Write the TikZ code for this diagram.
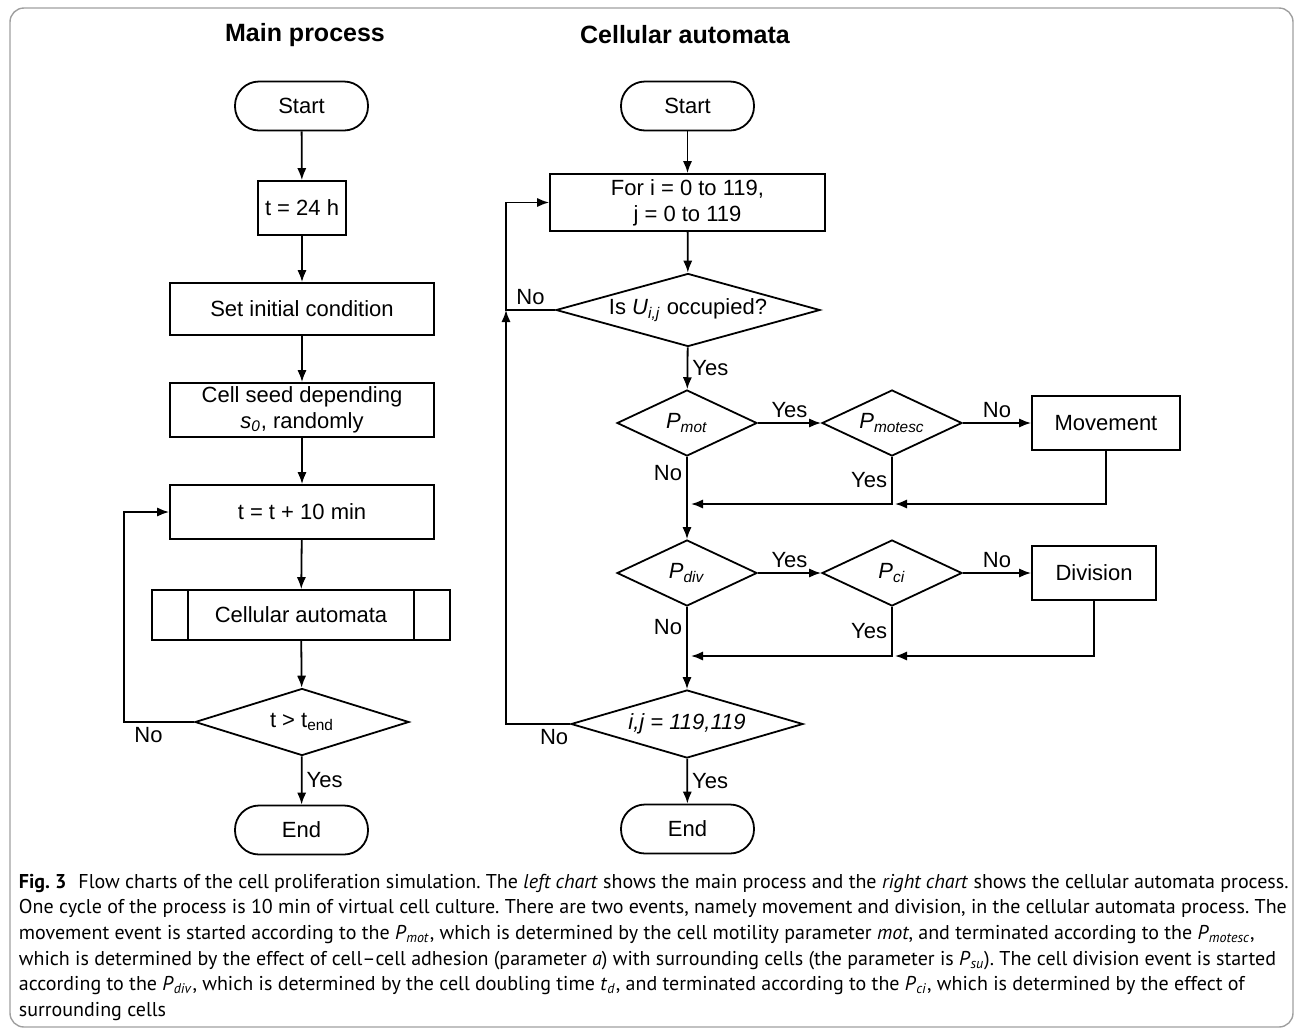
\documentclass[tikz,border=0pt]{standalone}
\usepackage{fontspec}
\setmainfont{Liberation Sans}
\newfontfamily\capfont[Ligatures=TeX]{PT Sans}
\usetikzlibrary{shapes.geometric, arrows.meta}
\tikzset{
  >={Latex[length=6pt,width=4.6pt]},
  base/.style={draw, align=center, inner sep=0pt, font=\fontsize{11}{13}\selectfont},
  startstop/.style={base, rounded corners=12pt, minimum width=66.5pt, minimum height=24.5pt},
  procbox/.style={base, rectangle, minimum height=27pt},
  decision/.style={base, diamond, aspect=2.1, minimum width=70pt, minimum height=33pt},
  lbl/.style={inner sep=2pt, font=\fontsize{11}{13}\selectfont},
  heading/.style={font=\fontsize{12.5}{15}\selectfont\bfseries},
}

\begin{document}
\frenchspacing
\begin{tikzpicture}[x=0.5pt, y=-0.5pt, line width=0.9pt]
  \useasboundingbox (0,0) rectangle (1295,1029);
  \draw[gray!75, line width=0.7pt, rounded corners=7pt] (10,8) rectangle (1293,1027);

  % main process
  \node[heading] (mhead) at (305,35) {Main process};
  \node[startstop] (mstart) at (301.5,106) {Start};
  \node[procbox, minimum width=44pt] (tinit) at (302,208) {t = 24 h};
  \node[procbox, minimum width=132pt, minimum height=26pt] (setinit) at (302,309) {Set initial condition};
  \node[procbox, minimum width=132pt] (seed) at (302,410) {Cell seed depending\\\textit{s}\textsubscript{\textit{0}}, randomly};
  \node[procbox, minimum width=132pt] (tstep) at (302,512) {t = t + 10 min};
  \node[procbox, minimum width=149pt, minimum height=25pt] (mca) at (301,615) {Cellular automata};
  \draw ([xshift=18.5pt]mca.north west) -- ([xshift=18.5pt]mca.south west)
        ([xshift=-18.5pt]mca.north east) -- ([xshift=-18.5pt]mca.south east);
  \node[decision, minimum width=107pt, minimum height=33.5pt, aspect=3.2] (tend) at (302,722) {t > t\textsubscript{end}};
  \node[startstop] (mend) at (301.5,830) {End};
  \coordinate (mloop) at (124,722);

  % cellular automata
  \node[heading] (chead) at (685,35) {Cellular automata};
  \node[startstop] (cstart) at (687.5,106) {Start};
  \node[procbox, minimum width=137.5pt, minimum height=28.5pt] (forij) at (687.5,202.5) {For i = 0 to 119,\\j = 0 to 119};
  \node[decision, minimum width=132pt, minimum height=36.5pt, aspect=3.6] (occ) at (688,310) {Is \textit{U}\textsubscript{\textit{i,j}} occupied?};
  \node[decision] (pmot) at (687,423) {\textit{P}\textsubscript{\textit{mot}}};
  \node[decision] (pmotesc) at (892,423) {\textit{P}\textsubscript{\textit{motesc}}};
  \node[procbox, minimum width=74pt] (move) at (1106,423) {Movement};
  \node[decision] (pdiv) at (687,573) {\textit{P}\textsubscript{\textit{div}}};
  \node[decision] (pci) at (892,573) {\textit{P}\textsubscript{\textit{ci}}};
  \node[procbox, minimum width=62pt] (divis) at (1094,573) {Division};
  \node[decision, minimum width=116pt, minimum height=34pt, aspect=3.4] (last) at (687,724) {\textit{i,j = 119,119}};
  \node[startstop] (cend) at (687.5,829) {End};
  \coordinate (j1) at (687,504);
  \coordinate (j2) at (892,504);
  \coordinate (j3) at (687,656);
  \coordinate (j4) at (892,656);
  \coordinate (lp) at (506,310);
  \coordinate (lq) at (506,724);

  % caption
  \node[anchor=north west, align=left, inner sep=0pt, font=\capfont\fontsize{10}{12.85}\selectfont] (cap) at (18,873)
    {\textbf{Fig. 3}\hspace{0.6em}Flow charts of the cell proliferation simulation. The \textit{left chart} shows the main process and the \textit{right chart} shows the cellular automata process.\\
     One cycle of the process is 10 min of virtual cell culture. There are two events, namely movement and division, in the cellular automata process. The\\
     movement event is started according to the \textit{P}\textsubscript{\textit{mot}}, which is determined by the cell motility parameter \textit{mot}, and terminated according to the \textit{P}\textsubscript{\textit{motesc}},\\
     which is determined by the effect of cell\textendash cell adhesion (parameter \textit{a}) with surrounding cells (the parameter is \textit{P}\textsubscript{\textit{su}}). The cell division event is started\\
     according to the \textit{P}\textsubscript{\textit{div}}, which is determined by the cell doubling time \textit{t}\textsubscript{\textit{d}}, and terminated according to the \textit{P}\textsubscript{\textit{ci}}, which is determined by the effect of\\
     surrounding cells};

  % connectors, main process
  \draw[->] (mstart) -- (tinit);
  \draw[->] (tinit) -- (setinit);
  \draw[->] (setinit) -- (seed);
  \draw[->] (seed) -- (tstep);
  \draw[->] (tstep) -- (mca);
  \draw[->] (mca) -- (tend);
  \draw[->] (tend) -- node[lbl, right] {Yes} (mend);
  \draw[->] (tend.west) -- node[lbl, below, pos=0.65] {No} (mloop) |- (tstep.west);

  % connectors, cellular automata
  \draw[->] (cstart) -- (forij);
  \draw[->] (forij) -- (occ);
  \draw[->] (occ) -- node[lbl, right] {Yes} (pmot);
  \draw[->] (occ.west) -- node[lbl, above] {No} (lp) |- (forij.west);
  \draw[->] (pmot) -- node[lbl, above] {Yes} (pmotesc);
  \draw[->] (pmotesc) -- node[lbl, above] {No} (move);
  \draw[->, shorten >=1.5pt] (move.south) |- (j2);
  \draw[->, shorten >=2pt] (pmotesc.south) -- node[lbl, left] {Yes} (j2) -- (j1);
  \draw[->] (pmot) -- node[lbl, left, pos=0.2] {No} (pdiv);
  \draw[->] (pdiv) -- node[lbl, above] {Yes} (pci);
  \draw[->] (pci) -- node[lbl, above] {No} (divis);
  \draw[->, shorten >=1.5pt] (divis.south) |- (j4);
  \draw[->, shorten >=2pt] (pci.south) -- node[lbl, left] {Yes} (j4) -- (j3);
  \draw[->] (pdiv) -- node[lbl, left, pos=0.25] {No} (last);
  \draw[->] (last.west) -- node[lbl, below, pos=0.25] {No} (lq) -- (lp);
  \draw[->] (last) -- node[lbl, right] {Yes} (cend);
\end{tikzpicture}
\end{document}
